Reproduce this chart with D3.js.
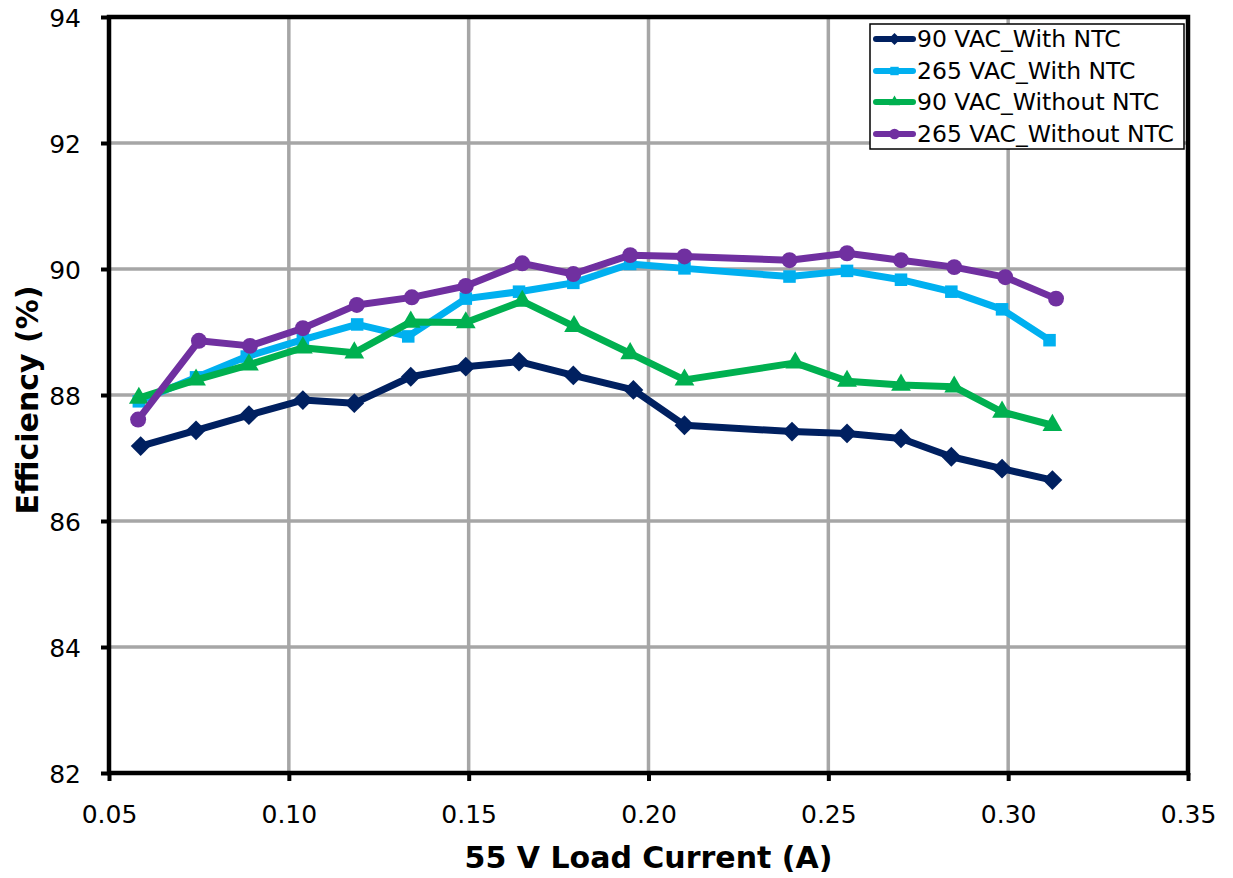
<!DOCTYPE html>
<html>
<head>
<meta charset="utf-8">
<script src="https://cdn.jsdelivr.net/npm/d3@7/dist/d3.min.js"></script>
<style>
  html, body { margin: 0; padding: 0; background: #fff; }
  svg { display: block; }
  text { font-family: "DejaVu Sans", Verdana, sans-serif; fill: #000; }
</style>
</head>
<body>
<svg id="chart" width="1233" height="878"></svg>
<script>
// ---- Data ----
const seriesNames = ["90 VAC_With NTC", "265 VAC_With NTC", "90 VAC_Without NTC", "265 VAC_Without NTC"];

const x90With = [0.0588, 0.0742, 0.0889, 0.1039, 0.1182, 0.1339, 0.1492, 0.1640, 0.1791, 0.1958, 0.2100, 0.2399, 0.2552, 0.2702, 0.2842, 0.2983, 0.3123];
const y90With = [87.19, 87.44, 87.68, 87.92, 87.87, 88.29, 88.45, 88.53, 88.31, 88.08, 87.52, 87.42, 87.39, 87.31, 87.02, 86.83, 86.65];

const x265With = [0.0583, 0.0742, 0.0883, 0.1039, 0.1190, 0.1332, 0.1492, 0.1640, 0.1791, 0.1949, 0.2100, 0.2392, 0.2552, 0.2702, 0.2842, 0.2983, 0.3115];
const y265With = [87.90, 88.28, 88.61, 88.88, 89.12, 88.93, 89.53, 89.64, 89.78, 90.08, 90.01, 89.88, 89.97, 89.83, 89.64, 89.36, 88.87];

const x90Without = [0.0583, 0.0742, 0.0889, 0.1039, 0.1182, 0.1339, 0.1492, 0.1649, 0.1793, 0.1949, 0.2100, 0.2408, 0.2552, 0.2702, 0.2850, 0.2983, 0.3123];
const y90Without = [87.95, 88.24, 88.48, 88.75, 88.67, 89.16, 89.15, 89.49, 89.09, 88.66, 88.24, 88.51, 88.22, 88.16, 88.13, 87.73, 87.52];

const x265Without = [0.0581, 0.0750, 0.0892, 0.1039, 0.1189, 0.1342, 0.1492, 0.1649, 0.1791, 0.1949, 0.2100, 0.2392, 0.2552, 0.2702, 0.2850, 0.2992, 0.3133];
const y265Without = [87.61, 88.86, 88.78, 89.06, 89.43, 89.55, 89.73, 90.09, 89.92, 90.22, 90.20, 90.14, 90.25, 90.14, 90.03, 89.87, 89.53];

const xTicks = [0.05, 0.10, 0.15, 0.20, 0.25, 0.30, 0.35];
const yTicks = [82, 84, 86, 88, 90, 92, 94];

const xTitle = "55 V Load Current (A)";
const yTitle = "Efficiency (%)";

// ---- Layout ----
const svg = d3.select("#chart");
const L = 109, R = 1188, T = 17, B = 773;
const x = d3.scaleLinear().domain([0.05, 0.35]).range([L, R]);
const y = d3.scaleLinear().domain([82, 94]).range([B, T]);

const colors = ["#002060", "#00B0F0", "#00B050", "#7030A0"];
const symbols = [d3.symbolDiamond2, d3.symbolSquare2, d3.symbolTriangle2, d3.symbolCircle];

// Grid
const grid = svg.append("g");
grid.selectAll("line.v").data(xTicks.slice(1, -1)).join("line")
  .attr("x1", d => x(d)).attr("x2", d => x(d)).attr("y1", T).attr("y2", B)
  .attr("stroke", "#A6A6A6").attr("stroke-width", 3.5);
grid.selectAll("line.h").data(yTicks.slice(1, -1)).join("line")
  .attr("y1", d => y(d)).attr("y2", d => y(d)).attr("x1", L).attr("x2", R)
  .attr("stroke", "#A6A6A6").attr("stroke-width", 3.5);

// Axes
const xAxis = d3.axisBottom(x).tickValues(xTicks).tickSize(8).tickFormat(d3.format(".2f"));
const yAxis = d3.axisLeft(y).tickValues(yTicks).tickSize(8).tickFormat(d3.format("d"));

const gx = svg.append("g").attr("transform", `translate(0,${B})`).call(xAxis);
gx.select(".domain").remove();
gx.selectAll(".tick line").attr("stroke", "#000").attr("stroke-width", 4);
gx.selectAll(".tick text").attr("font-size", 25).attr("dy", 0).attr("y", 50)
  .attr("font-family", "DejaVu Sans").attr("fill", "#000");

const gy = svg.append("g").attr("transform", `translate(${L},0)`).call(yAxis);
gy.select(".domain").remove();
gy.selectAll(".tick line").attr("stroke", "#000").attr("stroke-width", 4);
gy.selectAll(".tick text").attr("font-size", 25).attr("x", -28).attr("dy", "0.36em")
  .attr("font-family", "DejaVu Sans").attr("fill", "#000");

// Plot border
svg.append("rect").attr("x", L).attr("y", T).attr("width", R - L).attr("height", B - T)
  .attr("fill", "none").attr("stroke", "#000").attr("stroke-width", 4.5);

// Series
const allSeries = [
  { name: seriesNames[0], xs: x90With, ys: y90With },
  { name: seriesNames[1], xs: x265With, ys: y265With },
  { name: seriesNames[2], xs: x90Without, ys: y90Without },
  { name: seriesNames[3], xs: x265Without, ys: y265Without }
];

const markerSizes = [250, 200, 280, 200];
const line = d3.line().x(d => x(d[0])).y(d => y(d[1]));

allSeries.forEach((s, i) => {
  const pts = s.xs.map((v, k) => [v, s.ys[k]]);
  const g = svg.append("g");
  g.append("path").datum(pts).attr("d", line)
    .attr("fill", "none").attr("stroke", colors[i]).attr("stroke-width", 7)
    .attr("stroke-linejoin", "round");
  g.selectAll("path.m").data(pts).join("path").attr("class", "m")
    .attr("transform", d => `translate(${x(d[0])},${y(d[1])})`)
    .attr("d", d3.symbol().type(symbols[i]).size(markerSizes[i]))
    .attr("fill", colors[i]);
});

// Legend
const lg = svg.append("g");
lg.append("rect").attr("x", 870).attr("y", 24).attr("width", 314).attr("height", 125)
  .attr("fill", "#fff").attr("stroke", "#000").attr("stroke-width", 1.5);
const legY = [39, 71, 102, 134];
seriesNames.forEach((n, i) => {
  lg.append("line").attr("x1", 876).attr("x2", 913).attr("y1", legY[i]).attr("y2", legY[i])
    .attr("stroke", colors[i]).attr("stroke-width", 6).attr("stroke-linecap", "round");
  lg.append("path").attr("transform", `translate(894.5,${legY[i]})`)
    .attr("d", d3.symbol().type(symbols[i]).size(90)).attr("fill", colors[i]);
  lg.append("text").attr("x", 917).attr("y", legY[i]).attr("dy", "0.36em")
    .attr("font-size", 23.5).text(n);
});

// Axis titles
svg.append("text").attr("x", (L + R) / 2).attr("y", 868).attr("text-anchor", "middle")
  .attr("font-size", 30).attr("font-weight", "bold").text(xTitle);
svg.append("text").attr("transform", `translate(38,${(T + B) / 2 + 5}) rotate(-90)`)
  .attr("text-anchor", "middle").attr("font-size", 30).attr("font-weight", "bold").text(yTitle);
</script>
</body>
</html>
